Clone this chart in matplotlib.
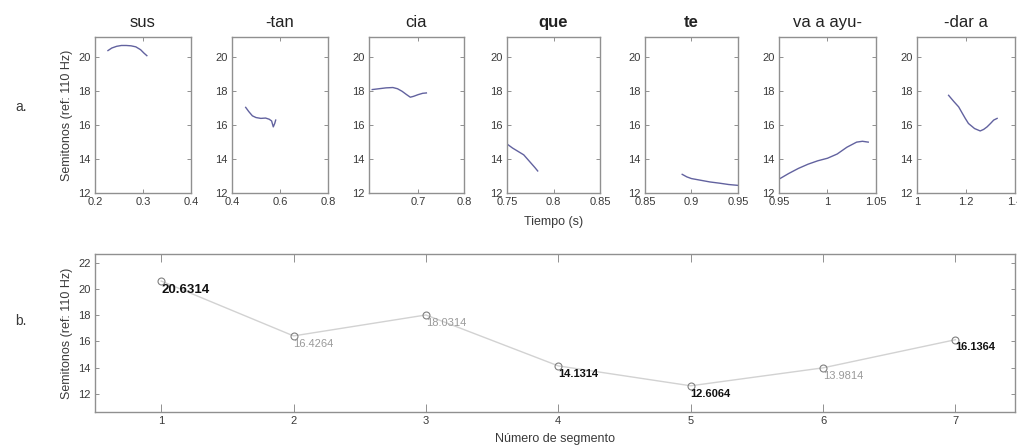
import matplotlib
matplotlib.use("Agg")
import matplotlib.pyplot as plt

plt.rcParams['font.family'] = ['Liberation Sans', 'DejaVu Sans']

# --- data -------------------------------------------------------------
titles = ["sus", "-tan", "cia", "que", "te", "va a ayu-", "-dar a"]
bold_titles = ["que", "te"]

sus_t = [0.227, 0.235, 0.245, 0.255, 0.265, 0.275, 0.285, 0.295, 0.302, 0.308]
sus_st = [20.4, 20.55, 20.65, 20.7, 20.7, 20.68, 20.62, 20.45, 20.25, 20.1]

tan_t = [0.457, 0.47, 0.485, 0.5, 0.52, 0.54, 0.555, 0.565, 0.572, 0.578, 0.582]
tan_st = [17.05, 16.8, 16.55, 16.45, 16.4, 16.42, 16.35, 16.25, 15.9, 16.1, 16.3]

cia_t = [0.6, 0.615, 0.63, 0.645, 0.655, 0.665, 0.675, 0.683, 0.69, 0.7, 0.71, 0.718]
cia_st = [18.1, 18.15, 18.2, 18.22, 18.15, 18.0, 17.8, 17.65, 17.7, 17.8, 17.88, 17.9]

que_t = [0.751, 0.756, 0.762, 0.768, 0.772, 0.776, 0.78, 0.783]
que_st = [14.85, 14.65, 14.45, 14.25, 14.0, 13.75, 13.5, 13.3]

te_t = [0.89, 0.895, 0.9, 0.91, 0.92, 0.93, 0.94, 0.95]
te_st = [13.1, 12.95, 12.85, 12.75, 12.65, 12.58, 12.5, 12.45]

va_t = [0.951, 0.96, 0.97, 0.98, 0.99, 1.0, 1.01, 1.02, 1.03, 1.036, 1.042]
va_st = [12.85, 13.15, 13.45, 13.7, 13.9, 14.05, 14.3, 14.7, 15.0, 15.05, 15.0]

dar_t = [1.129, 1.15, 1.17, 1.185, 1.197, 1.21, 1.235, 1.258, 1.272, 1.286, 1.3, 1.313, 1.327]
dar_st = [17.76, 17.4, 17.08, 16.7, 16.4, 16.1, 15.8, 15.66, 15.75, 15.9, 16.1, 16.3, 16.4]

seg_times = [sus_t, tan_t, cia_t, que_t, te_t, va_t, dar_t]
seg_tones = [sus_st, tan_st, cia_st, que_st, te_st, va_st, dar_st]

xlims = [(0.2, 0.4), (0.4, 0.8), (0.593, 0.8), (0.75, 0.85),
         (0.85, 0.95), (0.95, 1.05), (1.0, 1.4)]
xticks = [[0.2, 0.3, 0.4], [0.4, 0.6, 0.8], [0.7, 0.8], [0.75, 0.8, 0.85],
          [0.85, 0.9, 0.95], [0.95, 1.0, 1.05], [1.0, 1.2, 1.4]]
xticklabels = [["0.2", "0.3", "0.4"], ["0.4", "0.6", "0.8"], ["0.7", "0.8"],
               ["0.75", "0.8", "0.85"], ["0.85", "0.9", "0.95"],
               ["0.95", "1", "1.05"], ["1", "1.2", "1.4"]]
top_yticks = [12, 14, 16, 18, 20]

segment = [1, 2, 3, 4, 5, 6, 7]
mean_st = [20.6314, 16.4264, 18.0314, 14.1314, 12.6064, 13.9814, 16.1364]
mean_labels = ["20.6314", "16.4264", "18.0314", "14.1314", "12.6064", "13.9814", "16.1364"]
label_bold = [True, False, False, True, True, False, True]
bottom_yticks = [12, 14, 16, 18, 20, 22]

# --- figure -----------------------------------------------------------
W, H = 1017, 446
fig = plt.figure(figsize=(W / 100, H / 100), dpi=100)

spine_col = '#909090'
text_col = '#3a3a3a'
line_col = '#62629f'


def style_axes(ax):
    for s in ax.spines.values():
        s.set_color(spine_col)
        s.set_linewidth(1.0)
    ax.tick_params(direction='in', length=3, width=0.7, color=spine_col,
                   labelsize=8, labelcolor=text_col, top=True, right=True, pad=3)


lefts = [95, 232, 369, 507, 645, 779, 917]
widths = [96, 96, 95, 93, 93, 97, 98]
top_px, bot_px = 37, 193

for i in range(7):
    ax = fig.add_axes([lefts[i] / W, 1 - bot_px / H, widths[i] / W, (bot_px - top_px) / H])
    ax.plot(seg_times[i], seg_tones[i], color=line_col, lw=1.0)
    ax.set_xlim(*xlims[i])
    ax.set_ylim(12, 21.2)
    ax.set_xticks(xticks[i])
    ax.set_xticklabels(xticklabels[i])
    ax.set_yticks(top_yticks)
    style_axes(ax)
    weight = 'bold' if titles[i] in bold_titles else 'normal'
    ax.set_title(titles[i], fontsize=12, weight=weight, color='#222222', pad=7)
    if i == 0:
        ax.set_ylabel("Semitonos (ref: 110 Hz)", fontsize=9, color=text_col, labelpad=4)
    if i == 3:
        ax.set_xlabel("Tiempo (s)", fontsize=9, color=text_col, labelpad=6)

# bottom panel
axb = fig.add_axes([95 / W, 1 - 412 / H, 920 / W, 158 / H])
axb.plot(segment, mean_st, color='#d2d2d2', lw=1.0, marker='o', ms=5,
         mfc='none', mec='#808080', mew=0.8)
for x, y, lab, b in zip(segment, mean_st, mean_labels, label_bold):
    if b:
        fs = 9.5 if x == 1 else 8
        axb.annotate(lab, (x, y), xytext=(0, -2), textcoords='offset points',
                     ha='left', va='top', fontsize=fs, weight='bold', color='#111111')
    else:
        axb.annotate(lab, (x, y), xytext=(0, -2), textcoords='offset points',
                     ha='left', va='top', fontsize=8, color='#9a9a9a')
axb.set_xlim(0.5, 7.45)
axb.set_ylim(10.6, 22.7)
axb.set_xticks(segment)
axb.set_yticks(bottom_yticks)
style_axes(axb)
axb.tick_params(axis='x', length=6)
axb.set_ylabel("Semitonos (ref: 110 Hz)", fontsize=9, color=text_col, labelpad=4)
axb.set_xlabel("Número de segmento", fontsize=9, color=text_col, labelpad=5)

fig.text(15 / W, 1 - 107 / H, "a.", fontsize=10, color=text_col, va='center')
fig.text(15 / W, 1 - 321 / H, "b.", fontsize=10, color=text_col, va='center')

fig.savefig("out.png", dpi=100)
